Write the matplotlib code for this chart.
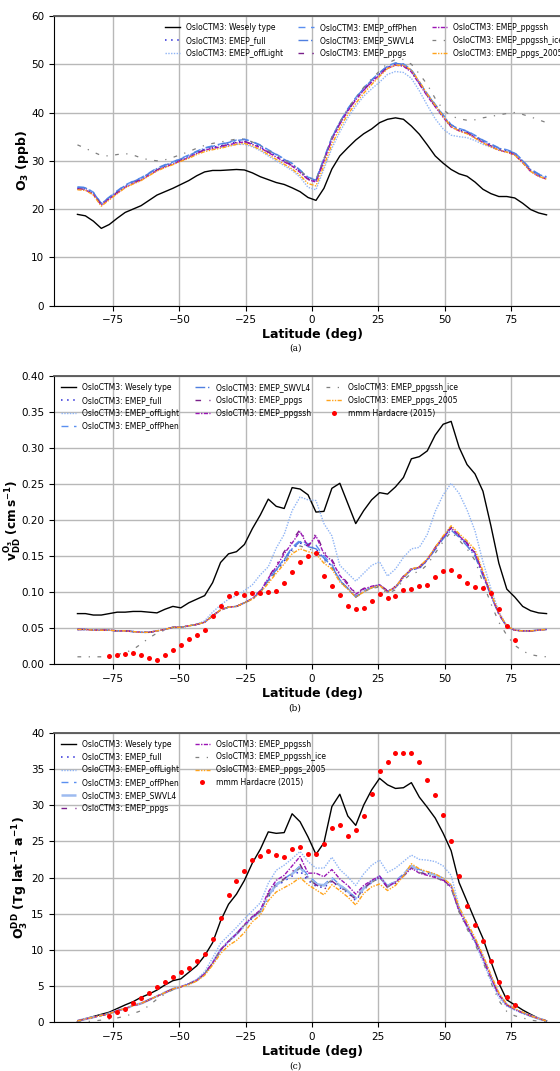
import numpy as np
import matplotlib
matplotlib.use("Agg")
import matplotlib.pyplot as plt
from matplotlib.lines import Line2D
from matplotlib.ticker import FormatStrFormatter

# ---------------------------------------------------------------------------
# Zonal-mean data on a 3-degree latitude grid (-88.5 ... 88.5)
# ---------------------------------------------------------------------------
LAT = np.arange(-88.5, 89.0, 3.0)
LAT_OBS = np.arange(-76.5, 77.0, 3.0)

LABELS = [
    "OsloCTM3: Wesely type",
    "OsloCTM3: EMEP_full",
    "OsloCTM3: EMEP_offLight",
    "OsloCTM3: EMEP_offPhen",
    "OsloCTM3: EMEP_SWVL4",
    "OsloCTM3: EMEP_ppgs",
    "OsloCTM3: EMEP_ppgssh",
    "OsloCTM3: EMEP_ppgssh_ice",
    "OsloCTM3: EMEP_ppgs_2005",
]
OBS_LABEL = "mmm Hardacre (2015)"

# (a) surface ozone, ppb
O3_WESELY = [18.9, 18.6, 17.5, 16.0, 16.8, 18.1, 19.3, 20.0, 20.7, 21.8,
             22.9, 23.6, 24.3, 25.1, 25.9, 26.9, 27.7, 28.0, 28.0, 28.1,
             28.2, 28.1, 27.5, 26.7, 26.1, 25.5, 25.1, 24.4, 23.6, 22.4,
             21.8, 24.3, 28.3, 31.0, 32.7, 34.3, 35.6, 36.6, 37.9, 38.6,
             38.9, 38.6, 37.2, 35.5, 33.3, 31.0, 29.5, 28.2, 27.3, 26.8,
             25.6, 24.1, 23.2, 22.6, 22.6, 22.3, 21.2, 19.9, 19.2, 18.8]
O3_FULL = [24.3, 24.2, 23.2, 21.0, 22.3, 23.5, 24.7, 25.5, 26.2, 27.2,
           28.2, 28.9, 29.5, 30.2, 30.9, 31.7, 32.4, 32.8, 33.1, 33.5,
           33.9, 34.1, 33.6, 32.9, 31.9, 31.0, 30.0, 29.1, 27.8, 26.3,
           25.8, 30.2, 34.6, 37.8, 40.5, 42.8, 44.8, 46.5, 48.0, 49.4,
           50.0, 49.8, 48.6, 46.1, 43.6, 41.4, 39.2, 37.2, 36.4, 35.9,
           35.0, 34.0, 33.2, 32.4, 32.0, 31.4, 29.8, 28.0, 27.0, 26.4]
O3_OFFLIGHT = [24.4, 24.3, 23.3, 21.1, 22.4, 23.6, 24.8, 25.6, 26.3, 27.3,
               28.3, 29.0, 29.6, 30.2, 30.9, 31.6, 32.2, 32.5, 32.8, 33.1,
               33.4, 33.4, 32.9, 32.1, 31.0, 30.0, 29.0, 28.0, 26.6, 24.5,
               24.0, 28.3, 32.6, 36.0, 38.9, 41.3, 43.4, 44.9, 46.3, 47.9,
               48.5, 48.3, 47.1, 44.5, 41.5, 38.7, 36.6, 35.3, 35.0, 34.8,
               34.2, 33.4, 32.8, 32.2, 31.8, 31.3, 29.8, 28.0, 27.0, 26.5]
O3_OFFPHEN = [24.6, 24.5, 23.5, 21.2, 22.5, 23.8, 25.0, 25.8, 26.5, 27.5,
              28.5, 29.2, 29.8, 30.5, 31.2, 32.0, 32.7, 33.1, 33.5, 33.9,
              34.3, 34.5, 34.0, 33.3, 32.3, 31.4, 30.4, 29.5, 28.1, 26.6,
              26.1, 30.5, 34.9, 38.0, 40.8, 43.1, 45.1, 46.8, 48.3, 49.7,
              50.3, 50.1, 48.9, 46.4, 43.9, 41.7, 39.5, 37.5, 36.7, 36.2,
              35.3, 34.3, 33.5, 32.7, 32.3, 31.7, 30.1, 28.3, 27.3, 26.7]
O3_SWVL4 = [24.5, 24.4, 23.4, 21.1, 22.4, 23.7, 24.9, 25.7, 26.4, 27.4,
            28.4, 29.1, 29.7, 30.4, 31.1, 31.9, 32.6, 33.0, 33.4, 33.8,
            34.2, 34.4, 33.9, 33.2, 32.2, 31.3, 30.3, 29.4, 28.0, 26.5,
            26.0, 30.4, 34.8, 38.0, 40.7, 43.0, 45.0, 46.7, 48.2, 49.6,
            50.2, 50.0, 48.8, 46.3, 43.8, 41.6, 39.4, 37.4, 36.6, 36.1,
            35.2, 34.2, 33.4, 32.6, 32.2, 31.6, 30.0, 28.2, 27.2, 26.6]
O3_PPGS = [24.2, 24.1, 23.1, 20.9, 22.2, 23.4, 24.6, 25.4, 26.1, 27.1,
           28.1, 28.8, 29.4, 30.1, 30.8, 31.6, 32.3, 32.7, 33.0, 33.4,
           33.8, 34.0, 33.5, 32.8, 31.8, 30.9, 29.9, 29.0, 27.7, 26.2,
           25.7, 30.1, 34.5, 37.7, 40.4, 42.7, 44.7, 46.4, 47.9, 49.3,
           49.9, 49.7, 48.5, 46.0, 43.5, 41.3, 39.1, 37.1, 36.3, 35.8,
           34.9, 33.9, 33.1, 32.3, 31.9, 31.3, 29.7, 27.9, 26.9, 26.3]
O3_PPGSSH = [24.1, 24.0, 23.0, 20.8, 22.1, 23.3, 24.5, 25.3, 26.0, 27.0,
             28.0, 28.7, 29.3, 30.0, 30.7, 31.5, 32.2, 32.6, 32.9, 33.3,
             33.7, 33.9, 33.4, 32.7, 31.7, 30.8, 29.8, 28.9, 27.6, 26.1,
             25.6, 30.0, 34.4, 37.6, 40.3, 42.6, 44.6, 46.3, 47.8, 49.2,
             49.8, 49.6, 48.4, 45.9, 43.4, 41.2, 39.0, 37.0, 36.2, 35.7,
             34.8, 33.8, 33.0, 32.2, 31.8, 31.2, 29.6, 27.8, 26.8, 26.2]
O3_ICE = [33.3, 32.6, 31.8, 31.1, 31.0, 31.3, 31.5, 31.2, 30.6, 30.2,
          30.0, 30.2, 30.7, 31.3, 31.9, 32.6, 33.2, 33.6, 33.9, 34.2,
          34.5, 34.5, 33.9, 33.1, 32.1, 31.2, 30.2, 29.3, 28.0, 26.5,
          26.0, 30.4, 34.8, 38.0, 40.8, 43.1, 45.2, 47.0, 48.6, 50.2,
          51.0, 51.0, 50.0, 48.0, 45.8, 42.9, 40.6, 39.3, 38.7, 38.4,
          38.5, 38.9, 39.2, 39.5, 39.8, 40.0, 39.6, 39.1, 38.5, 37.9]
O3_2005 = [24.0, 23.9, 22.9, 20.6, 21.9, 23.2, 24.4, 25.2, 25.9, 26.9,
           27.9, 28.6, 29.2, 29.9, 30.5, 31.3, 31.9, 32.3, 32.6, 33.0,
           33.4, 33.6, 33.1, 32.3, 31.3, 30.3, 29.3, 28.3, 27.0, 25.3,
           24.8, 29.0, 33.4, 36.8, 39.6, 41.9, 44.0, 45.8, 47.5, 49.1,
           49.8, 49.8, 48.8, 46.4, 43.8, 41.5, 39.2, 37.1, 36.2, 35.6,
           34.7, 33.7, 32.9, 32.2, 31.8, 31.2, 29.6, 27.8, 26.8, 26.2]

# (b) ozone dry deposition velocity, cm/s
VDD_WESELY = [0.070, 0.070, 0.068, 0.068, 0.070, 0.072, 0.072, 0.073, 0.073, 0.072,
              0.071, 0.076, 0.080, 0.078, 0.085, 0.090, 0.095, 0.113, 0.141, 0.153,
              0.156, 0.166, 0.188, 0.207, 0.229, 0.219, 0.216, 0.245, 0.243, 0.235,
              0.211, 0.212, 0.244, 0.251, 0.223, 0.195, 0.213, 0.228, 0.238, 0.236,
              0.246, 0.259, 0.285, 0.288, 0.296, 0.318, 0.333, 0.337, 0.301, 0.277,
              0.264, 0.240, 0.192, 0.140, 0.104, 0.093, 0.080, 0.074, 0.071, 0.070]
VDD_FULL = [0.048, 0.048, 0.047, 0.047, 0.047, 0.046, 0.046, 0.045, 0.044, 0.044,
            0.046, 0.048, 0.051, 0.051, 0.053, 0.055, 0.058, 0.067, 0.075, 0.079,
            0.080, 0.085, 0.090, 0.100, 0.115, 0.130, 0.143, 0.160, 0.168, 0.164,
            0.160, 0.146, 0.136, 0.116, 0.105, 0.093, 0.101, 0.106, 0.109, 0.100,
            0.106, 0.120, 0.131, 0.133, 0.144, 0.160, 0.176, 0.188, 0.178, 0.166,
            0.152, 0.124, 0.096, 0.070, 0.052, 0.047, 0.046, 0.046, 0.047, 0.048]
VDD_OFFLIGHT = [0.048, 0.048, 0.047, 0.047, 0.047, 0.046, 0.046, 0.045, 0.044, 0.044,
                0.046, 0.048, 0.051, 0.051, 0.053, 0.055, 0.060, 0.072, 0.082, 0.090,
                0.095, 0.102, 0.110, 0.124, 0.135, 0.161, 0.180, 0.213, 0.232, 0.228,
                0.227, 0.195, 0.178, 0.137, 0.126, 0.115, 0.126, 0.137, 0.142, 0.122,
                0.132, 0.148, 0.160, 0.162, 0.180, 0.212, 0.235, 0.251, 0.237, 0.214,
                0.185, 0.142, 0.105, 0.073, 0.053, 0.047, 0.046, 0.046, 0.047, 0.048]
VDD_OFFPHEN = [0.048, 0.048, 0.047, 0.047, 0.047, 0.046, 0.046, 0.045, 0.044, 0.044,
               0.046, 0.048, 0.051, 0.051, 0.053, 0.055, 0.058, 0.067, 0.075, 0.079,
               0.080, 0.085, 0.091, 0.101, 0.117, 0.132, 0.146, 0.162, 0.172, 0.167,
               0.165, 0.150, 0.138, 0.117, 0.105, 0.094, 0.101, 0.107, 0.110, 0.101,
               0.107, 0.121, 0.132, 0.134, 0.145, 0.161, 0.177, 0.190, 0.179, 0.168,
               0.154, 0.126, 0.097, 0.070, 0.052, 0.047, 0.046, 0.046, 0.047, 0.048]
VDD_SWVL4 = [0.048, 0.048, 0.047, 0.047, 0.047, 0.046, 0.046, 0.045, 0.044, 0.044,
             0.046, 0.048, 0.051, 0.051, 0.053, 0.055, 0.058, 0.067, 0.075, 0.079,
             0.080, 0.085, 0.090, 0.101, 0.116, 0.131, 0.145, 0.160, 0.170, 0.163,
             0.160, 0.147, 0.136, 0.116, 0.105, 0.093, 0.100, 0.106, 0.109, 0.100,
             0.106, 0.120, 0.131, 0.133, 0.144, 0.159, 0.174, 0.186, 0.176, 0.164,
             0.150, 0.122, 0.095, 0.069, 0.052, 0.047, 0.046, 0.046, 0.047, 0.048]
VDD_PPGS = [0.048, 0.048, 0.047, 0.047, 0.047, 0.046, 0.046, 0.045, 0.044, 0.044,
            0.046, 0.048, 0.051, 0.051, 0.053, 0.055, 0.058, 0.067, 0.075, 0.079,
            0.080, 0.085, 0.091, 0.102, 0.120, 0.137, 0.156, 0.171, 0.187, 0.164,
            0.181, 0.156, 0.145, 0.125, 0.112, 0.098, 0.105, 0.108, 0.110, 0.102,
            0.108, 0.122, 0.133, 0.135, 0.146, 0.162, 0.177, 0.190, 0.179, 0.168,
            0.155, 0.126, 0.097, 0.070, 0.052, 0.047, 0.046, 0.046, 0.047, 0.048]
VDD_PPGSSH = [0.048, 0.048, 0.047, 0.047, 0.047, 0.046, 0.046, 0.045, 0.044, 0.044,
              0.046, 0.048, 0.051, 0.051, 0.053, 0.055, 0.058, 0.067, 0.075, 0.079,
              0.080, 0.085, 0.091, 0.101, 0.119, 0.135, 0.153, 0.168, 0.184, 0.163,
              0.178, 0.153, 0.143, 0.123, 0.110, 0.097, 0.104, 0.108, 0.110, 0.101,
              0.107, 0.121, 0.132, 0.134, 0.145, 0.161, 0.176, 0.189, 0.178, 0.167,
              0.154, 0.125, 0.096, 0.070, 0.052, 0.047, 0.046, 0.046, 0.047, 0.048]
VDD_ICE = [0.010, 0.010, 0.010, 0.010, 0.011, 0.013, 0.016, 0.020, 0.028, 0.036,
           0.043, 0.047, 0.051, 0.051, 0.053, 0.055, 0.058, 0.067, 0.075, 0.079,
           0.080, 0.085, 0.090, 0.100, 0.114, 0.128, 0.141, 0.156, 0.164, 0.160,
           0.157, 0.143, 0.134, 0.115, 0.104, 0.093, 0.100, 0.105, 0.107, 0.098,
           0.103, 0.116, 0.126, 0.128, 0.138, 0.154, 0.170, 0.184, 0.172, 0.160,
           0.144, 0.113, 0.084, 0.058, 0.040, 0.026, 0.018, 0.013, 0.011, 0.010]
VDD_2005 = [0.048, 0.048, 0.047, 0.047, 0.047, 0.046, 0.046, 0.045, 0.044, 0.044,
            0.046, 0.048, 0.051, 0.051, 0.053, 0.055, 0.058, 0.067, 0.075, 0.079,
            0.080, 0.085, 0.090, 0.099, 0.112, 0.126, 0.139, 0.153, 0.160, 0.156,
            0.153, 0.140, 0.132, 0.114, 0.104, 0.093, 0.100, 0.106, 0.109, 0.100,
            0.107, 0.121, 0.132, 0.135, 0.146, 0.162, 0.178, 0.192, 0.181, 0.171,
            0.159, 0.129, 0.099, 0.071, 0.053, 0.047, 0.046, 0.046, 0.047, 0.048]
VDD_OBS = [0.011, 0.013, 0.014, 0.015, 0.012, 0.009, 0.006, 0.012, 0.020, 0.026,
           0.035, 0.040, 0.047, 0.066, 0.081, 0.095, 0.098, 0.096, 0.098, 0.098,
           0.100, 0.102, 0.113, 0.128, 0.141, 0.150, 0.154, 0.122, 0.109, 0.096,
           0.081, 0.077, 0.078, 0.088, 0.097, 0.092, 0.095, 0.103, 0.104, 0.109,
           0.110, 0.121, 0.129, 0.130, 0.122, 0.112, 0.107, 0.106, 0.098, 0.077,
           0.053, 0.034]

# (c) ozone dry deposition flux, Tg per latitude band per year
DD_WESELY = [0.1, 0.5, 0.8, 1.1, 1.4, 1.9, 2.4, 2.85, 3.45, 3.9,
             4.45, 5.15, 5.75, 6.0, 6.9, 7.8, 9.2, 11.0, 14.0, 16.3,
             17.7, 19.6, 22.0, 23.9, 26.3, 26.1, 26.2, 28.8, 27.7, 25.6,
             23.2, 24.8, 29.8, 31.5, 28.5, 27.2, 30.0, 32.1, 33.7, 32.8,
             32.3, 32.4, 33.1, 31.1, 29.7, 28.2, 26.1, 23.7, 19.3, 16.7,
             14.1, 11.6, 8.4, 5.4, 3.1, 2.4, 1.7, 1.1, 0.55, 0.2]
DD_FULL = [0.2, 0.45, 0.7, 0.95, 1.2, 1.6, 1.9, 2.3, 2.6, 3.1,
           3.6, 4.1, 4.6, 4.9, 5.3, 5.8, 6.7, 8.1, 9.9, 11.1,
           12.1, 13.3, 14.4, 15.2, 17.3, 18.8, 19.5, 20.2, 20.9, 19.6,
           18.8, 18.6, 19.5, 18.6, 17.9, 16.8, 18.3, 19.3, 20.0, 18.7,
           19.3, 20.3, 21.5, 20.9, 20.6, 20.2, 19.7, 18.7, 15.4, 13.2,
           11.2, 8.8, 6.1, 3.8, 2.4, 1.8, 1.3, 0.9, 0.5, 0.2]
DD_OFFLIGHT = [0.2, 0.45, 0.7, 0.95, 1.2, 1.6, 1.9, 2.3, 2.6, 3.1,
               3.6, 4.1, 4.6, 4.9, 5.3, 5.9, 7.0, 8.9, 10.9, 12.0,
               13.1, 14.3, 15.4, 16.5, 19.2, 21.0, 21.7, 22.6, 23.6, 22.2,
               21.3, 21.3, 22.8, 21.1, 20.1, 18.9, 20.5, 21.7, 22.4, 20.7,
               21.3, 22.2, 23.1, 22.5, 22.4, 22.2, 21.6, 20.3, 16.0, 13.4,
               11.0, 8.4, 5.7, 3.4, 2.2, 1.7, 1.2, 0.8, 0.5, 0.2]
DD_OFFPHEN = [0.2, 0.45, 0.7, 0.95, 1.2, 1.6, 1.9, 2.3, 2.6, 3.1,
              3.6, 4.1, 4.6, 4.9, 5.3, 5.8, 6.7, 8.2, 10.0, 11.2,
              12.2, 13.4, 14.5, 15.3, 17.6, 19.1, 19.8, 20.6, 21.6, 20.3,
              19.3, 19.0, 20.0, 19.0, 18.2, 17.2, 18.6, 19.5, 20.2, 18.9,
              19.5, 20.5, 21.7, 21.1, 20.8, 20.4, 19.9, 18.9, 15.6, 13.4,
              11.4, 9.0, 6.3, 3.9, 2.5, 1.8, 1.3, 0.9, 0.5, 0.2]
DD_SWVL4 = [0.2, 0.45, 0.7, 0.95, 1.2, 1.6, 1.9, 2.3, 2.6, 3.1,
            3.6, 4.1, 4.6, 4.9, 5.3, 5.8, 6.7, 8.2, 10.0, 11.2,
            12.2, 13.4, 14.5, 15.3, 17.5, 19.0, 19.7, 20.5, 21.4, 20.0,
            19.1, 18.9, 19.8, 18.9, 18.1, 17.1, 18.5, 19.4, 20.1, 18.8,
            19.4, 20.4, 21.6, 21.0, 20.7, 20.3, 19.8, 18.8, 15.5, 13.3,
            11.3, 8.9, 6.2, 3.8, 2.4, 1.8, 1.3, 0.9, 0.5, 0.2]
DD_PPGS = [0.2, 0.45, 0.7, 0.95, 1.2, 1.6, 1.9, 2.3, 2.6, 3.1,
           3.6, 4.1, 4.6, 4.9, 5.3, 5.8, 6.7, 8.2, 10.0, 11.2,
           12.2, 13.4, 14.5, 15.4, 17.7, 19.2, 19.8, 20.8, 21.8, 19.8,
           19.0, 18.3, 19.5, 18.7, 17.9, 17.0, 18.5, 19.4, 20.0, 18.6,
           19.2, 20.2, 21.3, 20.7, 20.4, 20.1, 19.7, 18.7, 15.4, 13.3,
           11.3, 8.9, 6.2, 3.8, 2.4, 1.8, 1.3, 0.9, 0.5, 0.2]
DD_PPGSSH = [0.2, 0.45, 0.7, 0.95, 1.2, 1.6, 1.9, 2.3, 2.6, 3.1,
             3.6, 4.1, 4.6, 4.9, 5.3, 5.8, 6.7, 8.2, 10.0, 11.2,
             12.2, 13.5, 14.6, 15.5, 18.0, 19.6, 20.3, 21.6, 22.9, 20.6,
             20.6, 20.1, 21.1, 19.8, 18.9, 17.7, 18.9, 19.6, 20.2, 18.7,
             19.4, 20.2, 21.3, 20.6, 20.3, 20.0, 19.6, 18.7, 15.4, 13.3,
             11.3, 8.9, 6.2, 3.8, 2.4, 1.8, 1.3, 0.9, 0.5, 0.2]
DD_ICE = [0.02, 0.08, 0.18, 0.3, 0.45, 0.6, 0.85, 1.2, 1.6, 2.3,
          3.2, 3.9, 4.5, 4.9, 5.3, 5.8, 6.7, 8.2, 10.0, 11.2,
          12.2, 13.4, 14.5, 15.3, 17.5, 19.0, 19.7, 20.5, 21.3, 19.9,
          19.0, 18.8, 19.7, 18.8, 18.0, 17.0, 18.4, 19.3, 20.0, 18.7,
          19.3, 20.2, 21.3, 20.7, 20.4, 20.0, 19.5, 18.5, 15.2, 12.9,
          10.8, 8.4, 5.5, 3.0, 1.5, 0.9, 0.6, 0.3, 0.15, 0.05]
DD_2005 = [0.2, 0.45, 0.7, 0.95, 1.2, 1.6, 1.9, 2.3, 2.6, 3.1,
           3.6, 4.1, 4.6, 4.9, 5.2, 5.7, 6.5, 7.9, 9.5, 10.6,
           11.3, 12.4, 13.9, 14.8, 16.8, 18.0, 18.6, 19.2, 20.0, 19.0,
           18.3, 17.6, 19.0, 18.2, 17.3, 16.2, 17.8, 18.7, 19.1, 18.2,
           18.9, 20.2, 21.9, 21.2, 20.8, 20.5, 19.9, 19.0, 15.9, 13.8,
           11.7, 9.3, 6.6, 4.1, 2.5, 1.9, 1.4, 0.9, 0.5, 0.2]
DD_OBS = [0.9, 1.4, 1.8, 2.6, 3.3, 4.0, 4.9, 5.6, 6.3, 6.9,
          7.5, 8.4, 9.4, 11.5, 14.4, 17.6, 19.5, 20.9, 22.4, 23.0,
          23.6, 23.1, 22.8, 24.0, 24.2, 23.3, 23.3, 24.6, 26.9, 27.2,
          25.7, 26.6, 28.5, 31.5, 34.7, 35.9, 37.2, 37.2, 37.2, 36.0,
          33.4, 31.4, 28.7, 25.0, 20.2, 16.0, 13.4, 11.2, 8.5, 5.6,
          3.5, 2.4]

# ---------------------------------------------------------------------------
# Line styles for the model runs (same order as LABELS)
# ---------------------------------------------------------------------------
STYLES = [
    dict(color="black", ls="-", lw=1.0),
    dict(color="#2b2bd9", ls=(0, (1, 3)), lw=1.1),
    dict(color="#8fb4f5", ls=(0, (1, 1)), lw=1.0),
    dict(color="#5b8ff0", ls=(0, (5, 4)), lw=1.0),
    dict(color="#4f7fe0", ls=(0, (7, 2, 1, 2)), lw=1.0),
    dict(color="#7a1f8a", ls=(0, (4, 6, 1, 6)), lw=1.0),
    dict(color="#9b14b5", ls=(0, (3, 1, 1, 1)), lw=1.0),
    dict(color="#7f7f7f", ls=(0, (3, 6, 1, 6)), lw=0.9),
    dict(color="#ffa31a", ls=(0, (3, 1, 1, 1, 1, 1)), lw=1.0),
]

TICK_FS = 7.5
LABEL_FS = 9
LEGEND_FS = 5.5

W, H = 560, 1071
LEFT_PX, RIGHT_PX = 54, 570
fig = plt.figure(figsize=(W / 100, H / 100), dpi=100)


def add_panel(top_px, bottom_px):
    return fig.add_axes([LEFT_PX / W, 1 - bottom_px / H,
                         (RIGHT_PX - LEFT_PX) / W, (bottom_px - top_px) / H])


def style_axes(ax, ylim, yticks, ylabel, label_right_px, label_fs=LABEL_FS):
    ax.set_xlim(-97.35, 97.35)
    ax.set_ylim(*ylim)
    ax.set_yticks(yticks)
    ax.set_xticks([-75, -50, -25, 0, 25, 50, 75])
    ax.grid(True, color="#b8b8b8", lw=1.0)
    ax.set_axisbelow(True)
    ax.tick_params(labelsize=TICK_FS, length=3.5, width=0.8)
    ax.set_xlabel("Latitude (deg)", fontsize=LABEL_FS, fontweight="bold", labelpad=2)
    ax.set_ylabel(ylabel, fontsize=label_fs, fontweight="bold")
    ax.yaxis.set_label_coords((label_right_px - LEFT_PX) / (RIGHT_PX - LEFT_PX), 0.5)
    ax.spines["top"].set_color("#555555")
    ax.spines["top"].set_linewidth(1.3)


def draw_models(ax, series, thick_swvl4=False):
    handles = []
    for i, (vals, st) in enumerate(zip(series, STYLES)):
        st = dict(st)
        if thick_swvl4 and i == 4:
            st.update(color="#9dbbf0", lw=1.8)
        h, = ax.plot(LAT, vals, color=st["color"], linestyle=st["ls"],
                     linewidth=st["lw"], label=LABELS[i])
        handles.append(h)
    return handles


# (a) surface ozone
ax_a = add_panel(16, 305.6)
h_a = draw_models(ax_a, [O3_WESELY, O3_FULL, O3_OFFLIGHT, O3_OFFPHEN, O3_SWVL4,
                         O3_PPGS, O3_PPGSSH, O3_ICE, O3_2005])
style_axes(ax_a, (0, 60), np.arange(0, 61, 10), r"$\mathbf{O_3}$ (ppb)", 31)
ax_a.legend(handles=h_a, loc="upper right", ncol=3, fontsize=LEGEND_FS,
            frameon=False)

# (b) deposition velocity
ax_b = add_panel(376, 664)
h_b = draw_models(ax_b, [VDD_WESELY, VDD_FULL, VDD_OFFLIGHT, VDD_OFFPHEN, VDD_SWVL4,
                         VDD_PPGS, VDD_PPGSSH, VDD_ICE, VDD_2005])
obs_b, = ax_b.plot(LAT_OBS, VDD_OBS, "o", color="red", ms=3.6, mec="none",
                   label=OBS_LABEL)
style_axes(ax_b, (0, 0.40), np.arange(0, 0.401, 0.05),
           r"$\mathbf{v_{DD}^{O_3}}$ $\mathbf{(cm\,s^{-1})}$", 23, label_fs=8.7)
ax_b.yaxis.set_major_formatter(FormatStrFormatter("%.2f"))
ax_b.legend(handles=h_b + [obs_b], loc="upper left", ncol=3, fontsize=LEGEND_FS,
            frameon=False, numpoints=1)

# (c) deposition flux
ax_c = add_panel(732.7, 1022.3)
h_c = draw_models(ax_c, [DD_WESELY, DD_FULL, DD_OFFLIGHT, DD_OFFPHEN, DD_SWVL4,
                         DD_PPGS, DD_PPGSSH, DD_ICE, DD_2005], thick_swvl4=True)
obs_c, = ax_c.plot(LAT_OBS, DD_OBS, "o", color="red", ms=3.6, mec="none",
                   label=OBS_LABEL)
style_axes(ax_c, (0, 40), np.arange(0, 41, 5),
           r"$\mathbf{O_3^{DD}}$ $\mathbf{(Tg\ lat^{-1}\ a^{-1})}$", 31)
blank = Line2D([], [], linestyle="none")
ax_c.legend(handles=h_c + [obs_c, blank, blank],
            labels=LABELS + [OBS_LABEL, "", ""],
            loc="upper left", ncol=2, fontsize=LEGEND_FS, frameon=False,
            numpoints=1)

# panel captions
for ypx, tag in [(348, "(a)"), (708, "(b)"), (1066, "(c)")]:
    fig.text(295 / W, 1 - ypx / H, tag, ha="center", va="center",
             fontsize=6.5, family="DejaVu Serif")

fig.savefig("out.png", dpi=100)
